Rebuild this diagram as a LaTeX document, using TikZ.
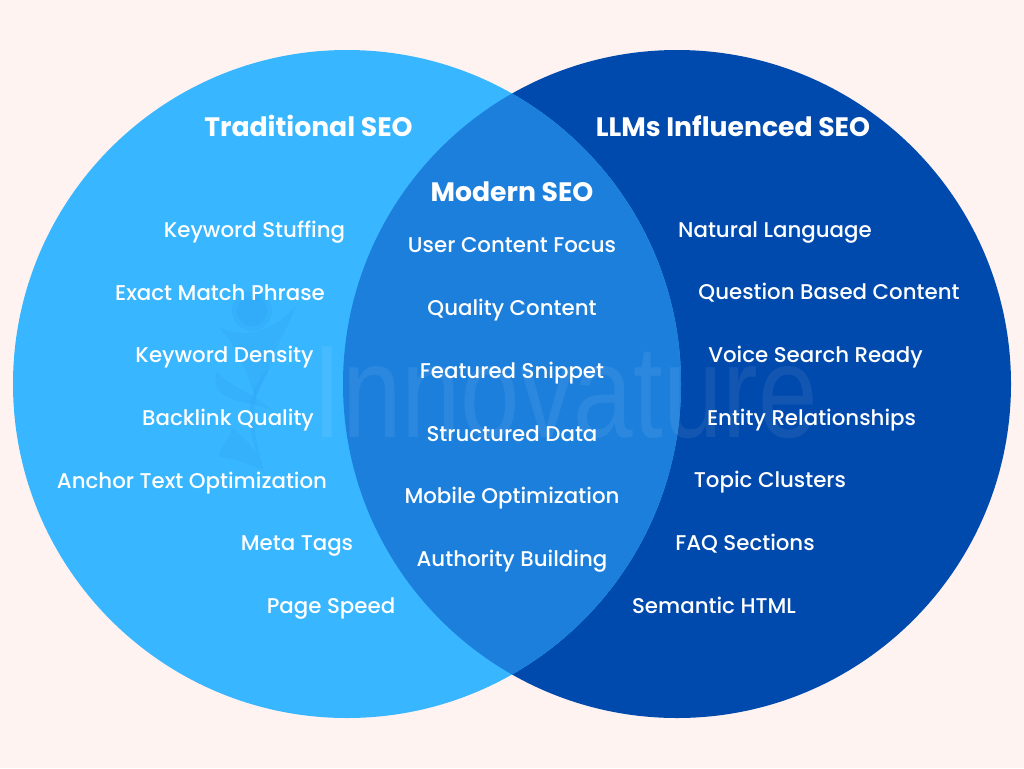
\documentclass[tikz,border=0pt]{standalone}
\usepackage{graphicx}
\usepackage{fontspec}
\setmainfont{Poppins}
\definecolor{bgc}{HTML}{FFF3F2}
\definecolor{lc}{HTML}{38B6FF}
\definecolor{rc}{HTML}{004AAD}
\definecolor{mc}{HTML}{1C7FDC}
\definecolor{lg}{HTML}{1C7FDC}
\tikzset{lbl/.style={text=white,font=\fontsize{16pt}{18pt}\selectfont\fontspec{Poppins Medium},inner sep=0pt,anchor=base},
ttl/.style={text=white,font=\fontsize{20pt}{22pt}\selectfont\fontspec{Poppins Bold},inner sep=0pt,anchor=base},
wm/.style={text=white,text opacity=0.07,font=\fontsize{99pt}{105pt}\selectfont\fontspec{Liberation Sans},inner sep=0pt,anchor=base},
logo/.style={fill=lg,fill opacity=0.09,draw=none}}
\begin{document}
\begin{tikzpicture}[x=0.75pt,y=-0.75pt]
\useasboundingbox (0,0) rectangle (1024,768);
\fill[bgc] (0,0) rectangle (1024,768);
\fill[rc] (677,384) circle[radius=334];
\fill[lc] (347,384) circle[radius=334];
\begin{scope}
\clip (347,384) circle[radius=334];
\fill[mc] (677,384) circle[radius=334];
\end{scope}
% faint logo
\fill[logo] (252,311) circle[radius=20];
\fill[logo] (252,311) circle[radius=15];
\fill[logo] (219,327) .. controls (240,338) and (270,335) .. (296,306) .. controls (285,335) and (272,350) .. (268,372) .. controls (262,385) and (258,392) .. (255,398) .. controls (250,380) and (240,350) .. cycle;
\fill[logo] (217,372) .. controls (228,385) and (250,392) .. (272,410) .. controls (255,403) and (230,402) .. (220,392) .. controls (215,385) and (214,378) .. cycle;
\fill[logo] (270,367) .. controls (262,380) and (254,395) .. (254,415) .. controls (254,440) and (260,455) .. (264,472) .. controls (255,455) and (250,435) .. (250,412) .. controls (250,395) and (258,378) .. cycle;
\fill[logo] (233,428) .. controls (245,440) and (255,445) .. (262,470) .. controls (245,462) and (232,458) .. (219,457) .. controls (220,447) and (228,440) .. cycle;
\node[wm] (w) at (565,437) {\scalebox{.81}[1]{Innovature}};
\node[ttl] (a) at (308.5,136) {Traditional SEO};
\node[ttl] (b) at (733,136) {LLMs Influenced SEO};
\node[ttl] (c) at (512,201) {Modern SEO};
\node[lbl] (l1) at (254.5,237) {Keyword Stuffing};
\node[lbl] (l2) at (220,300) {Exact Match Phrase};
\node[lbl] (l3) at (224.5,362) {Keyword Density};
\node[lbl] (l4) at (228,425) {Backlink Quality};
\node[lbl] (l5) at (192,488) {Anchor Text Optimization};
\node[lbl] (l6) at (297,550) {Meta Tags};
\node[lbl] (l7) at (331,613) {Page Speed};
\node[lbl] (m1) at (512,252) {User Content Focus};
\node[lbl] (m2) at (512,315) {Quality Content};
\node[lbl] (m3) at (512,378) {Featured Snippet};
\node[lbl] (m4) at (512,441) {Structured Data};
\node[lbl] (m5) at (512,503) {Mobile Optimization};
\node[lbl] (m6) at (512,566) {Authority Building};
\node[lbl] (r1) at (775,237) {Natural Language};
\node[lbl] (r2) at (829,299) {Question Based Content};
\node[lbl] (r3) at (815.5,362) {Voice Search Ready};
\node[lbl] (r4) at (811.5,425) {Entity Relationships};
\node[lbl] (r5) at (770,487) {Topic Clusters};
\node[lbl] (r6) at (745,550) {FAQ Sections};
\node[lbl] (r7) at (714,613) {Semantic HTML};
\end{tikzpicture}
\end{document}
